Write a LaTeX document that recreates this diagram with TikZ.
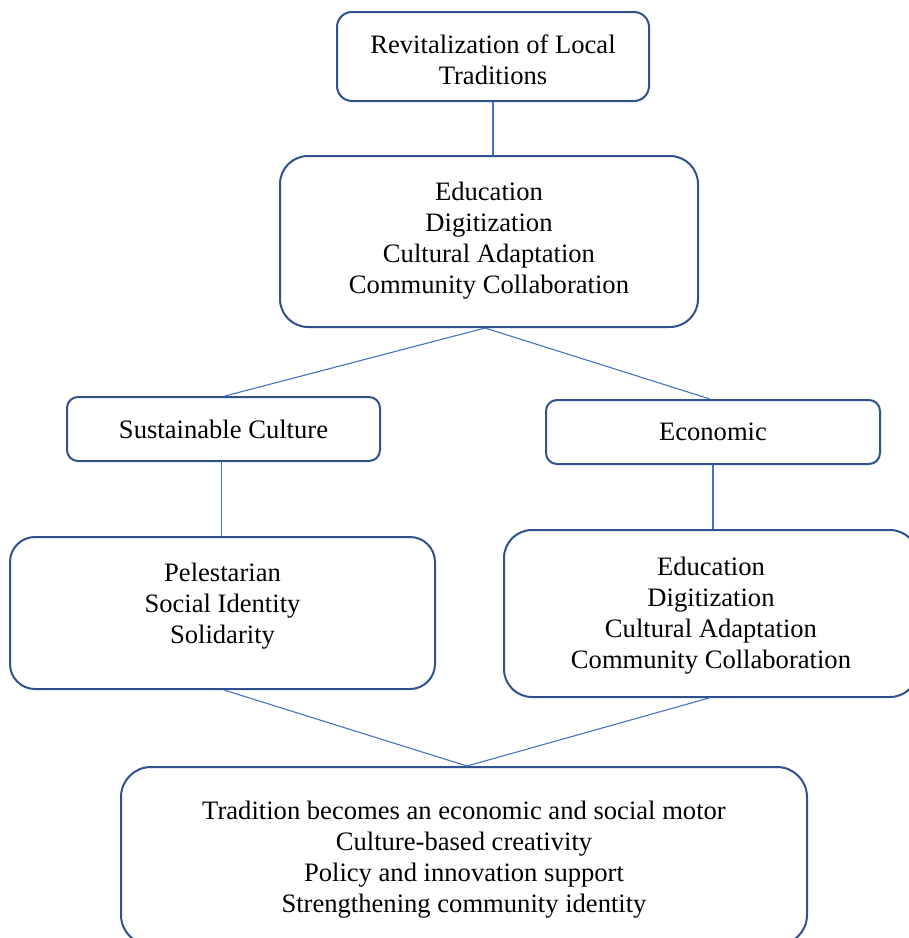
\documentclass[tikz,border=0pt]{standalone}
\usepackage{fontspec}
\setmainfont{Liberation Serif}
\usetikzlibrary{calc}
\definecolor{boxline}{HTML}{2F528F}
\definecolor{conn}{HTML}{4472C4}
\newcommand{\lines}[2]{\raisebox{#1}[0pt][0pt]{\begin{tabular}{@{}c@{}}#2\end{tabular}}}
\begin{document}
\begin{tikzpicture}[x=1pt,y=-1pt,
  box/.style={draw=boxline,line width=2pt,fill=white,align=center,inner sep=0pt,
    font=\fontsize{26.6}{31}\selectfont},
  link/.style={draw=conn,line width=1.1pt}]
\useasboundingbox (0,0) rectangle (909,938);
\clip (0,0) rectangle (909,938);
\node[box,rounded corners=15pt,minimum width=312pt,minimum height=89pt] (b1) at (493,56.5)
  {\lines{-12.7pt}{Revitalization of Local\\Traditions}};
\node[box,rounded corners=28pt,minimum width=418pt,minimum height=171pt] (b2) at (489,241.5)
  {\lines{-5.8pt}{Education\\Digitization\\Cultural Adaptation\\Community Collaboration}};
\node[box,rounded corners=11pt,minimum width=313pt,minimum height=64pt] (b3) at (223.5,429)
  {Sustainable Culture};
\node[box,rounded corners=11pt,minimum width=334pt,minimum height=64pt] (b4) at (713,432)
  {Economic};
\node[box,rounded corners=25pt,minimum width=425pt,minimum height=152pt] (b5) at (222.5,613)
  {\lines{0.4pt}{Pelestarian\\Social Identity\\Solidarity}};
\node[box,rounded corners=28pt,minimum width=414pt,minimum height=167pt] (b6) at (711,613.5)
  {\lines{-8.4pt}{Education\\Digitization\\Cultural Adaptation\\Community Collaboration}};
\node[box,rounded corners=30pt,minimum width=686pt,minimum height=178pt] (b7) at (464,856)
  {\lines{-10.2pt}{Tradition becomes an economic and social motor\\Culture-based creativity\\Policy and innovation support\\Strengthening community identity}};
\coordinate (top2) at ([xshift=-4pt]b2.south);
\coordinate (bot7) at ([xshift=3pt]b7.north);
\draw[link] (b1.south) -- (b1.south |- b2.north);
\draw[link] (top2) -- ([xshift=1.5pt]b3.north);
\draw[link] (top2) -- ([xshift=-3pt]b4.north);
\draw[link] ([xshift=-2pt]b3.south) -- ([xshift=-2pt]b3.south |- b5.north);
\draw[link] (b4.south) -- (b4.south |- b6.north);
\draw[link] ([xshift=1.5pt]b5.south) -- (bot7);
\draw[link] ([xshift=-2pt]b6.south) -- (bot7);
\end{tikzpicture}
\end{document}
